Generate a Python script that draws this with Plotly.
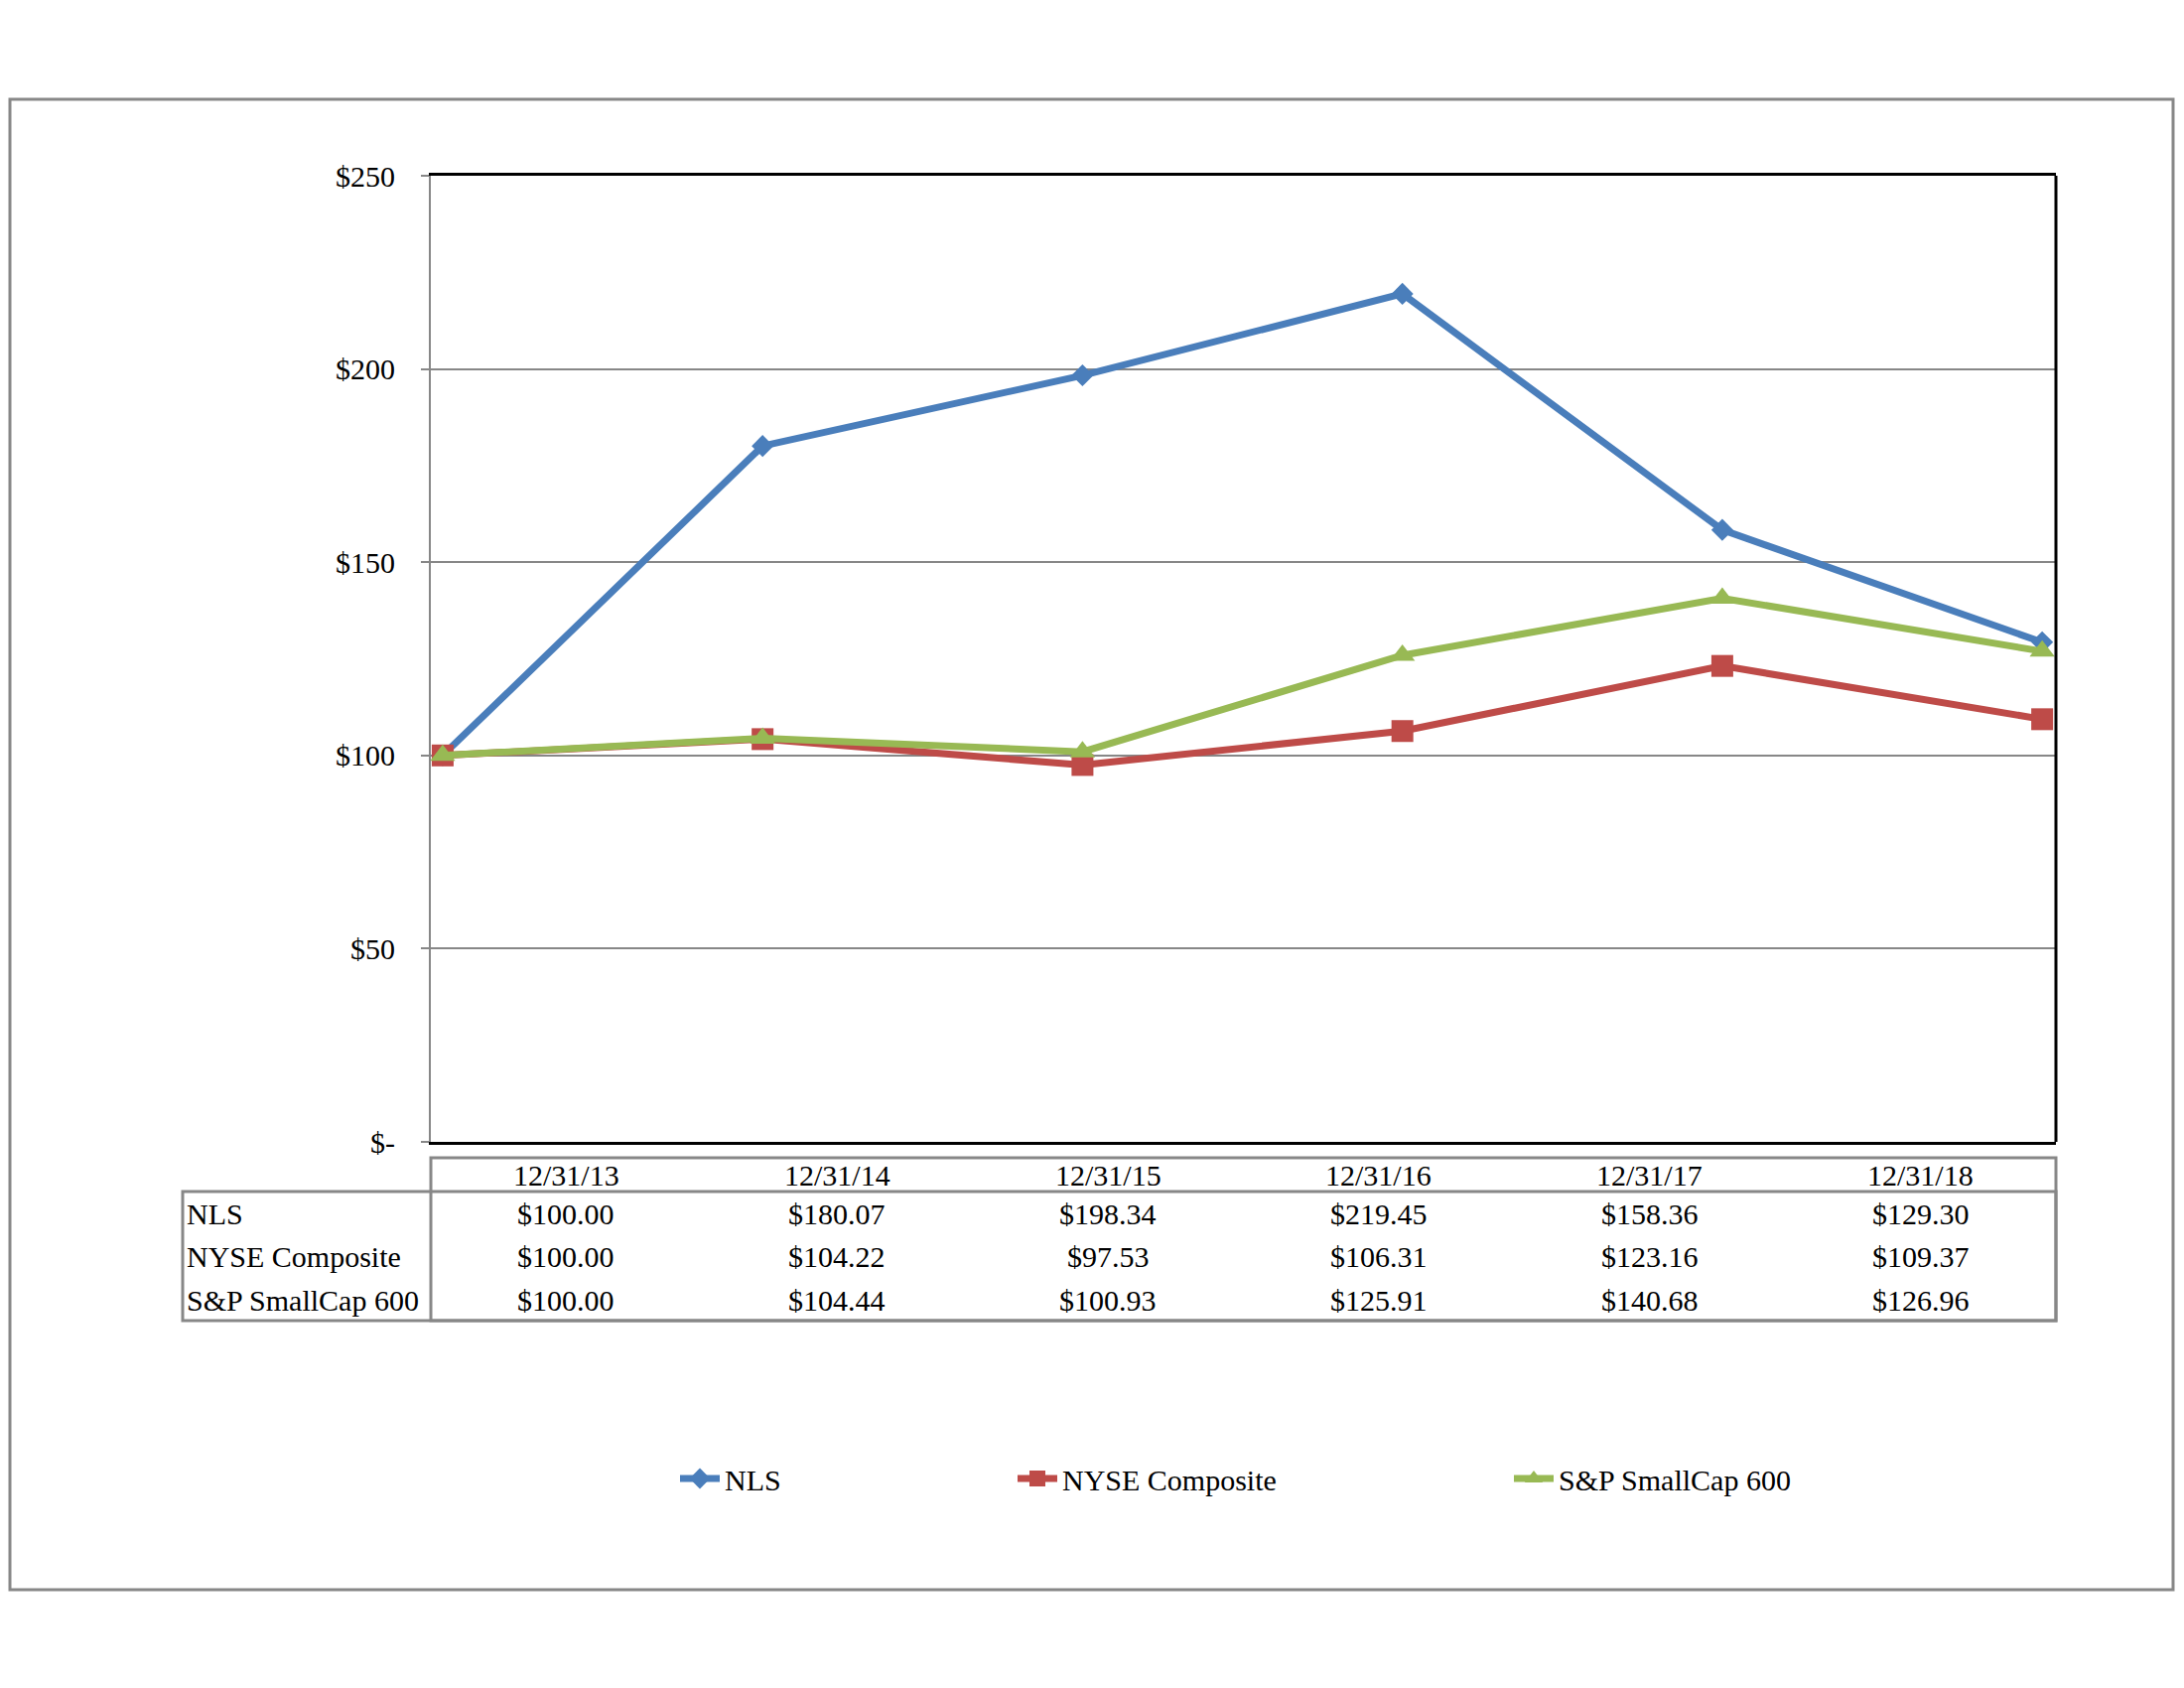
import plotly.graph_objects as go

# ---------------- data ----------------
dates = ["12/31/13", "12/31/14", "12/31/15", "12/31/16", "12/31/17", "12/31/18"]
series_names = ["NLS", "NYSE Composite", "S&P SmallCap 600"]
nls = [100.00, 180.07, 198.34, 219.45, 158.36, 129.30]
nyse = [100.00, 104.22, 97.53, 106.31, 123.16, 109.37]
sp600 = [100.00, 104.44, 100.93, 125.91, 140.68, 126.96]
y_tickvals = [0, 50, 100, 150, 200, 250]
y_ticktext = ["$-", "$50", "$100", "$150", "$200", "$250"]

# ---------------- styling ----------------
OFF = 8                      # page body margin
W, H = 2200 - 2 * OFF, 1700 - 2 * OFF
# plot area in page pixels
PL, PR, PT, PB = 434, 2071, 177, 1150
FONT = "Liberation Serif"
FS = 30
GRAY = "#878787"
colors = ["#4A7EBB", "#BE4B48", "#98B954"]
symbols = ["diamond", "square", "triangle-up"]
msizes = [17, 22, 22]


def px(x):
    return (x - PL) / (PR - PL)


def py(y):
    return (PB - y) / (PB - PT)


fig = go.Figure()
all_series = [nls, nyse, sp600]
legend_ids = ["legend", "legend2", "legend3"]
for name, vals, c, s, ms, lg in zip(series_names, all_series, colors, symbols, msizes, legend_ids):
    fig.add_trace(go.Scatter(
        x=dates, y=vals, name=name, mode="lines+markers",
        line=dict(color=c, width=7),
        marker=dict(symbol=s, size=ms, color=c),
        legend=lg,
    ))

shapes = []
# outer border
shapes.append(dict(type="rect", xref="paper", yref="paper",
                   x0=px(OFF + 2), x1=px(OFF + W - 3), y0=py(1601), y1=py(100),
                   line=dict(color=GRAY, width=3), layer="below"))
# right border of plot area
shapes.append(dict(type="line", xref="paper", yref="paper",
                   x0=1, x1=1, y0=0, y1=1, line=dict(color="black", width=3)))
# table frame
shapes.append(dict(type="rect", xref="paper", yref="paper",
                   x0=px(434), x1=px(2071), y0=py(1330), y1=py(1166),
                   line=dict(color=GRAY, width=3)))
shapes.append(dict(type="rect", xref="paper", yref="paper",
                   x0=px(184), x1=px(2071), y0=py(1330), y1=py(1200),
                   line=dict(color=GRAY, width=3)))

annotations = []
ncol = len(dates)
colw = (2071 - 434) / ncol
row_y = [1222, 1265, 1309]
for i, d in enumerate(dates):
    cx = 434 + colw * (i + 0.5)
    annotations.append(dict(text=d, x=px(cx), y=py(1183), xref="paper", yref="paper",
                            showarrow=False, xanchor="center", yanchor="middle",
                            font=dict(family=FONT, size=FS, color="black")))
    for r, vals in enumerate(all_series):
        annotations.append(dict(text=f"${vals[i]:.2f}", x=px(cx), y=py(row_y[r]),
                                xref="paper", yref="paper", showarrow=False,
                                xanchor="center", yanchor="middle",
                                font=dict(family=FONT, size=FS, color="black")))
for r, name in enumerate(series_names):
    annotations.append(dict(text=name, x=px(186), y=py(row_y[r]), xref="paper", yref="paper",
                            showarrow=False, xanchor="left", yanchor="middle",
                            font=dict(family=FONT, size=FS, color="black")))

legend_x = [680, 1020, 1520]
leg_common = dict(orientation="h", yanchor="middle", xanchor="left",
                  font=dict(family=FONT, size=FS, color="black"),
                  bgcolor="rgba(0,0,0,0)", itemwidth=40)

fig.update_layout(
    width=W, height=H,
    margin=dict(l=PL - OFF, r=W - (PR - OFF), t=PT - OFF, b=H - (PB - OFF)),
    paper_bgcolor="white", plot_bgcolor="white",
    font=dict(family=FONT, size=FS, color="black"),
    showlegend=True,
    legend=dict(x=px(legend_x[0]), y=py(1489), **leg_common),
    legend2=dict(x=px(legend_x[1]), y=py(1489), **leg_common),
    legend3=dict(x=px(legend_x[2]), y=py(1489), **leg_common),
    xaxis=dict(type="category", range=[-0.037, ncol - 1 + 0.043],
               showticklabels=False, ticks="", showgrid=False,
               showline=True, linecolor="black", linewidth=3, mirror=True,
               zeroline=False),
    yaxis=dict(range=[0, 250], tickvals=y_tickvals, ticktext=y_ticktext,
               showgrid=True, gridcolor=GRAY, gridwidth=2,
               showline=True, linecolor=GRAY, linewidth=2,
               ticks="outside", ticklen=8, tickcolor=GRAY, tickwidth=2,
               ticklabelstandoff=20,
               zeroline=False, tickfont=dict(family=FONT, size=FS, color="black")),
    shapes=shapes,
    annotations=annotations,
)

fig.write_html("out.html")
